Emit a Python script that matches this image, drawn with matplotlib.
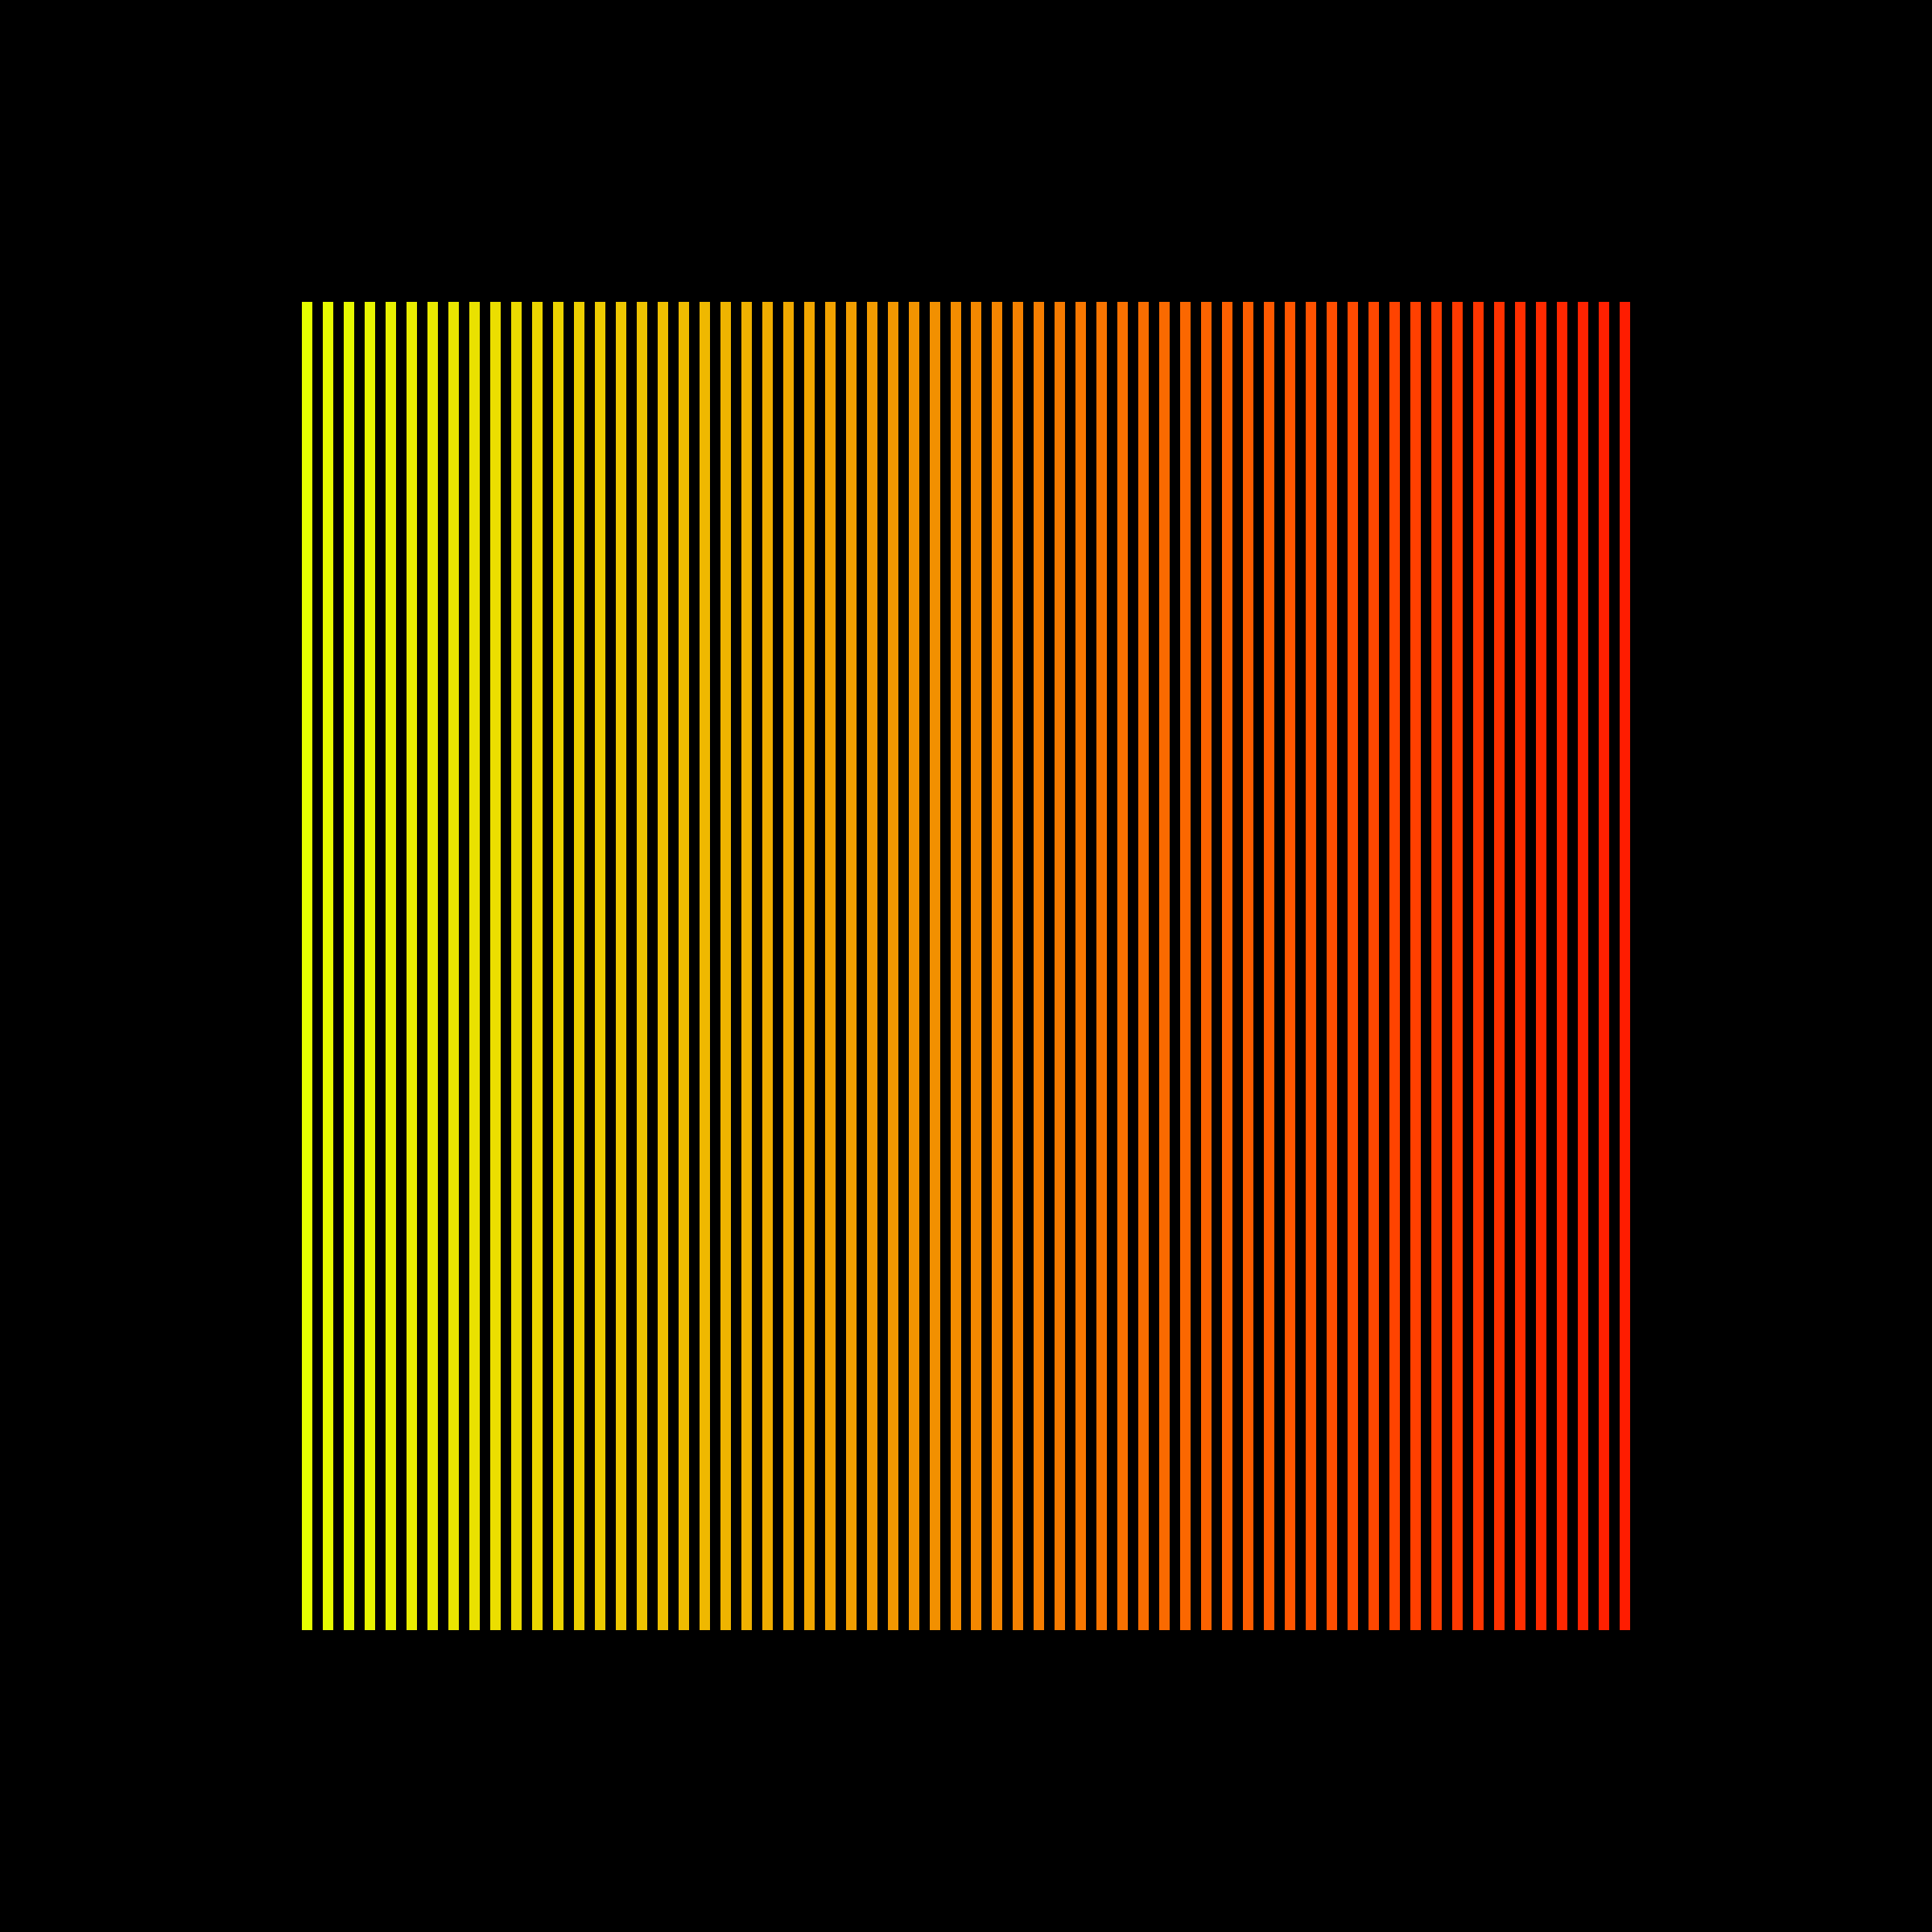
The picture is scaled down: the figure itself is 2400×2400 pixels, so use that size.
import matplotlib
matplotlib.use('Agg')
import matplotlib.pyplot as plt
from matplotlib.colors import LinearSegmentedColormap
import numpy as np

# 64 equal-height bars, coloured from yellow to red
positions = list(range(64))
heights = [1] * 64

# gradient stops
GRADIENT = ['#e6ff00', '#eec400', '#f38a00', '#ff5500', '#ff1c00']
BAR_WIDTH = 0.5

cmap = LinearSegmentedColormap.from_list('yellow_red', GRADIENT)
colors = [cmap(i / (len(positions) - 1)) for i in range(len(positions))]

fig = plt.figure(figsize=(8, 8), dpi=300, facecolor='black')
ax = fig.add_axes([0.15625, 0.15625, 0.6875, 0.6875])
ax.set_facecolor('black')

ax.bar(positions, heights, width=BAR_WIDTH, color=colors, linewidth=0)
ax.set_xlim(positions[0] - BAR_WIDTH / 2, positions[-1] + BAR_WIDTH / 2)
ax.set_ylim(0, max(heights))
ax.axis('off')

fig.savefig('out.png', dpi=300, facecolor='black')
